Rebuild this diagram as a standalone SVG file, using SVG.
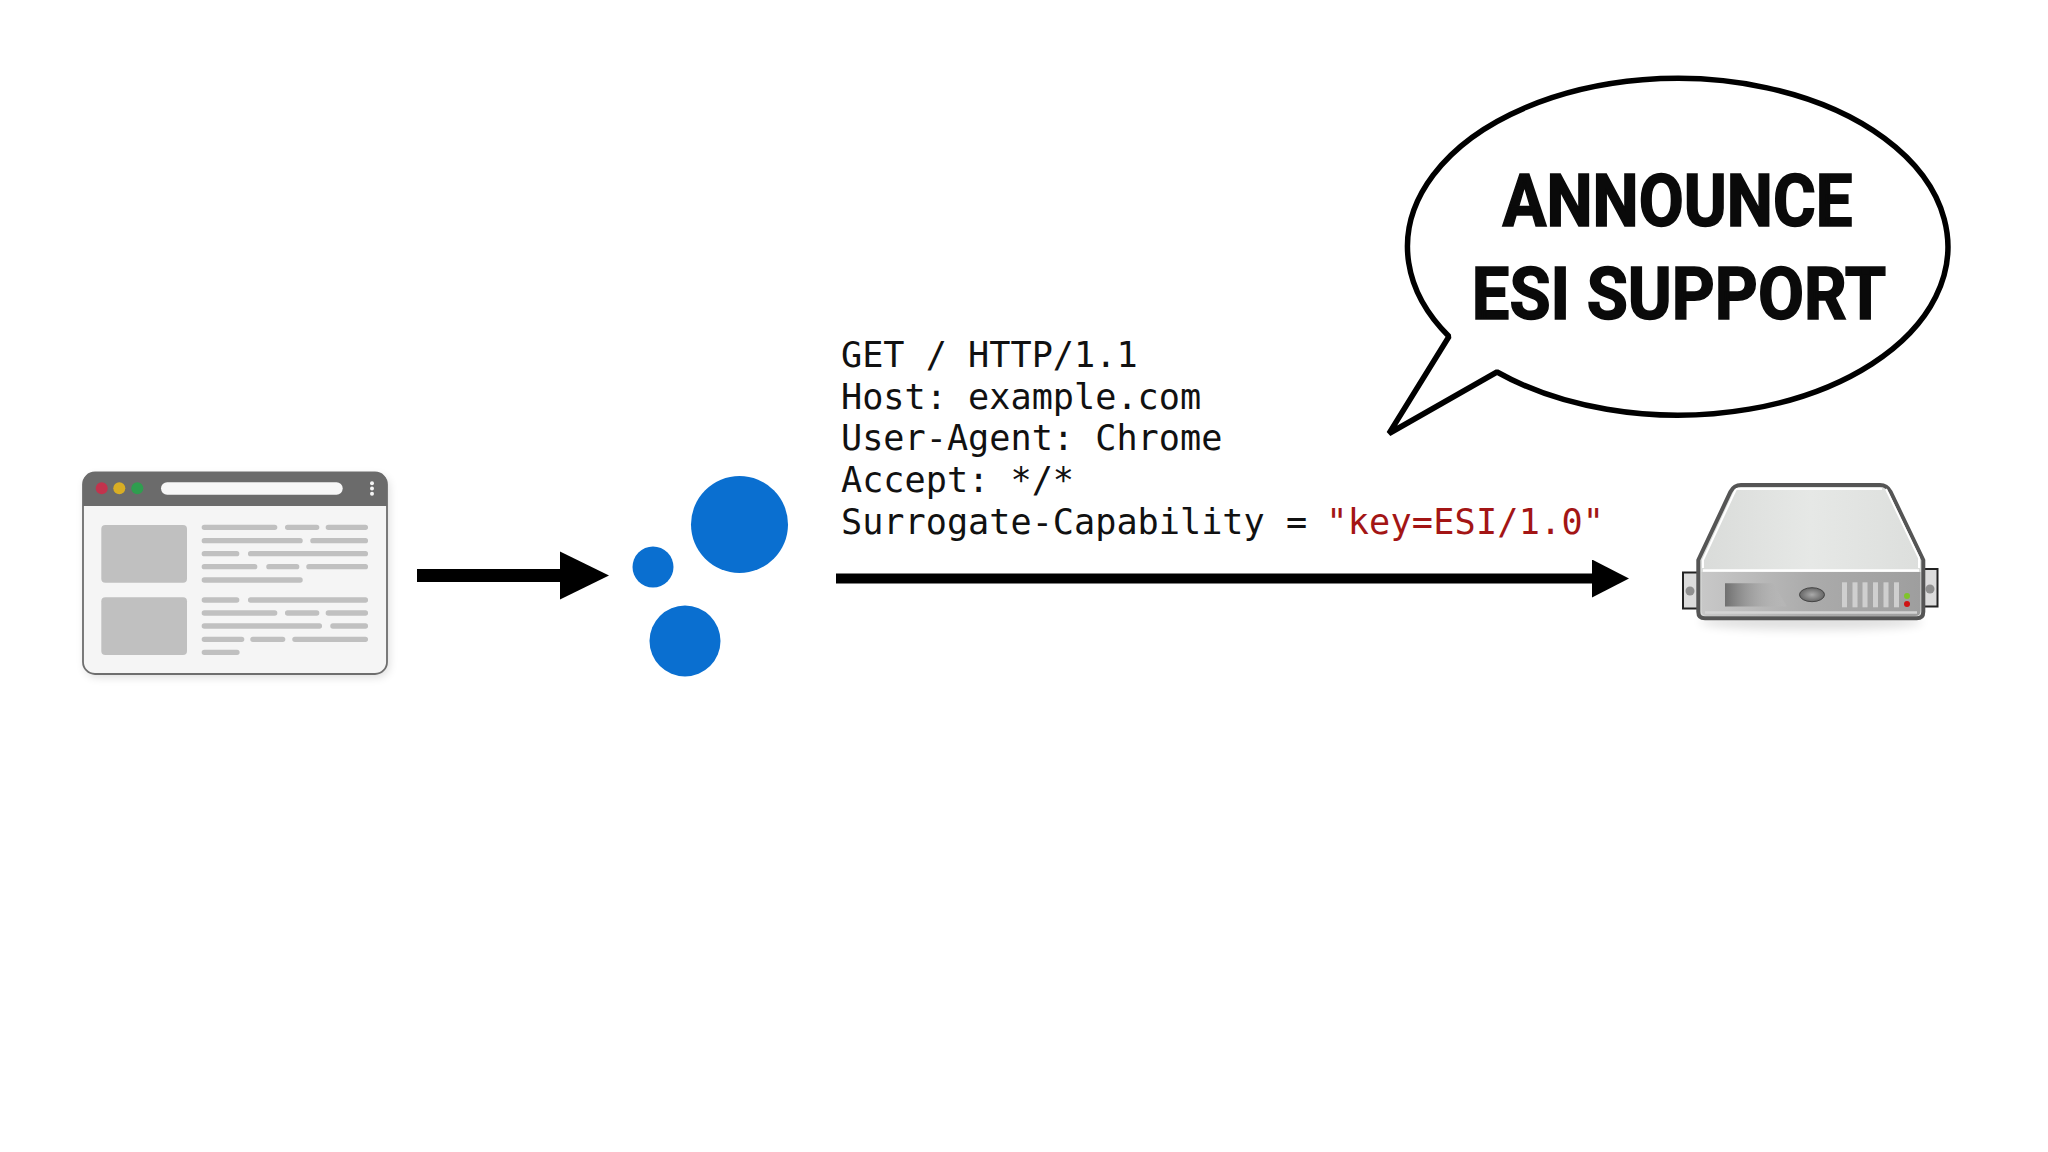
<svg xmlns="http://www.w3.org/2000/svg" width="2048" height="1152" viewBox="0 0 2048 1152">
<style>
.mono{font-family:"DejaVu Sans Mono","Liberation Mono",monospace;font-size:35.2px;fill:#111}
.big{font-family:"Roboto","Liberation Sans",sans-serif;font-weight:700;font-size:73px;fill:#0a0a0a;stroke:#0a0a0a;stroke-width:1.6px}
.conn{fill:none;stroke:#000}
.ph{fill:#c0c0c0}
.vent{fill:#cfcfcf}
</style>
<defs>
<marker id="headA" markerUnits="userSpaceOnUse" markerWidth="49" markerHeight="50" refX="0" refY="25" orient="auto"><path d="M0,1L49,25L0,49Z" fill="#000"/></marker>
<marker id="headB" markerUnits="userSpaceOnUse" markerWidth="37" markerHeight="38" refX="0" refY="19" orient="auto"><path d="M0,0L37,19L0,38Z" fill="#000"/></marker>
<linearGradient id="top" x1="0" y1="0" x2="1" y2="0"><stop offset="0" stop-color="#d9dbd9"/><stop offset=".5" stop-color="#e6e8e6"/><stop offset="1" stop-color="#dcdedc"/></linearGradient>
<linearGradient id="front" x1="0" y1="0" x2="1" y2="0"><stop offset="0" stop-color="#c8c8c8"/><stop offset=".5" stop-color="#ababab"/><stop offset="1" stop-color="#9e9e9e"/></linearGradient>
<linearGradient id="slot" x1="0" y1="0" x2="1" y2="0"><stop offset="0" stop-color="#6f6f6f"/><stop offset="1" stop-color="#c4c4c4" stop-opacity=".2"/></linearGradient>
<radialGradient id="btn"><stop offset="0" stop-color="#aaa"/><stop offset="1" stop-color="#666"/></radialGradient>
<filter id="blur" x="-20%" y="-50%" width="140%" height="200%"><feGaussianBlur stdDeviation="5"/></filter>
</defs>
<rect width="2048" height="1152" fill="#fff"/>

<g id="browser">
<rect x="85" y="476" width="304" height="201" rx="12" fill="#000" opacity=".14" filter="url(#blur)"/>
<rect x="83" y="472.500" width="304" height="201.500" rx="12" fill="#f5f5f5" stroke="#6e6e6e" stroke-width="1.800"/>
<path d="M83,506V484a12,12 0 0 1 12,-12H375a12,12 0 0 1 12,12V506Z" fill="#6b6b6b"/>
<circle cx="101.700" cy="488.300" r="6" fill="#c2334d"/>
<circle cx="119.300" cy="488.300" r="6" fill="#d9ae24"/>
<circle cx="137.300" cy="488.300" r="6" fill="#2f9e4f"/>
<rect x="161" y="482.300" width="181.700" height="12.400" rx="6.200" fill="#f7f7f7"/>
<circle cx="372" cy="483.300" r="2" fill="#f5f5f5"/><circle cx="372" cy="488.500" r="2" fill="#f5f5f5"/><circle cx="372" cy="493.700" r="2" fill="#f5f5f5"/>
<rect class="ph" x="101.300" y="525" width="85.700" height="57.700" rx="4"/>
<rect class="ph" x="101.300" y="597.300" width="85.700" height="57.700" rx="4"/>
<path fill="none" stroke="#c0c0c0" stroke-width="5.300" stroke-linecap="round" d="M204.300,527.300H274.700M287.600,527.300H316.700M328.300,527.300H365.400M204.300,540.700H300.100M312.900,540.700H365.400M204.300,553.700H236.700M250.600,553.700H365.400M204.300,566.700H254.700M268.900,566.700H296.700M308.900,566.700H365.400M204.300,580H300.100M204.300,600H236.700M250.600,600H365.400M204.300,613H274.700M287.600,613H316.700M328.300,613H365.400M204.300,626H319.400M332.900,626H365.400M204.300,639.300H241.700M252.900,639.300H282.700M294.900,639.300H365.400M204.300,652.300H237"/>
</g>

<g id="cloud" fill="#0a6fd0">
<circle cx="739.500" cy="524.500" r="48.500"/>
<circle cx="653" cy="567" r="20.500"/>
<circle cx="685" cy="641" r="35.500"/>
</g>

<g id="request">
<text class="mono" x="841" y="367">GET / HTTP/1.1</text>
<text class="mono" x="841" y="408.700">Host: example.com</text>
<text class="mono" x="841" y="450.400">User-Agent: Chrome</text>
<text class="mono" x="841" y="492">Accept: */*</text>
<text class="mono" x="841" y="533.700">Surrogate-Capability = <tspan fill="#a31515" dx="-2" letter-spacing=".2">"key=ESI/1.0"</tspan></text>
</g>

<g id="bubble">
<path d="M1449,336.480A270.200,168.400 0 1 1 1497,372L1389,433.500Z" fill="#fff" stroke="#000" stroke-width="5.500" stroke-linejoin="bevel"/>
<text class="big" transform="translate(1677.500,226) scale(.895,1)" text-anchor="middle">ANNOUNCE</text>
<text class="big" transform="translate(1679,319) scale(.915,1)" text-anchor="middle">ESI SUPPORT</text>
</g>

<g id="server">
<ellipse cx="1811" cy="622" rx="112" ry="8" fill="#000" opacity=".12" filter="url(#blur)"/>
<rect x="1683" y="572.500" width="15" height="36" fill="#dcdcdc" stroke="#222" stroke-width="2"/>
<rect x="1924" y="569" width="13.500" height="37.500" fill="#dcdcdc" stroke="#222" stroke-width="2"/>
<circle cx="1690" cy="591" r="4.500" fill="#8f8f8f"/><circle cx="1930" cy="589" r="4.500" fill="#8f8f8f"/>
<path d="M1741,485H1880Q1887,485 1890.500,491.700L1923.300,560V611.700Q1923.300,618.300 1916.700,618.300H1705Q1698.300,618.300 1698.300,611.700V560L1730.500,491.700Q1734,485 1741,485Z" fill="url(#top)" stroke="#555" stroke-width="4" stroke-linejoin="round"/>
<path d="M1736,489H1882M1736,489L1703,560V568M1886,489L1919,558V568" fill="none" stroke="#fff" stroke-width="2"/>
<path d="M1701.500,572H1920.500V611Q1920.500,616 1915,616H1707Q1701.500,616 1701.500,611Z" fill="url(#front)"/>
<path d="M1703,570.500H1919" stroke="#fff" stroke-width="2.500"/>
<path d="M1705,612.500H1917" stroke="#d4d4d4" stroke-width="2.500"/>
<path d="M1725,583.300H1773L1787,606.500H1725Z" fill="url(#slot)"/>
<ellipse cx="1812" cy="594.700" rx="12.500" ry="7" fill="url(#btn)" stroke="#444" stroke-width="1"/>
<rect class="vent" x="1842" y="582.300" width="5" height="25"/><rect class="vent" x="1852.500" y="582.300" width="5" height="25"/><rect class="vent" x="1862.500" y="582.300" width="5" height="25"/><rect class="vent" x="1873" y="582.300" width="5" height="25"/><rect class="vent" x="1883.500" y="582.300" width="5" height="25"/><rect class="vent" x="1894" y="582.300" width="5" height="25"/>
<circle cx="1907" cy="596" r="3" fill="#7fc42a"/><circle cx="1907" cy="604" r="3" fill="#cf1414"/>
</g>

<g id="connectors">
<path class="conn" stroke-width="13" d="M417,575.500H560" marker-end="url(#headA)"/>
<path class="conn" stroke-width="10" d="M836,578.500H1592" marker-end="url(#headB)"/>
</g>
</svg>
